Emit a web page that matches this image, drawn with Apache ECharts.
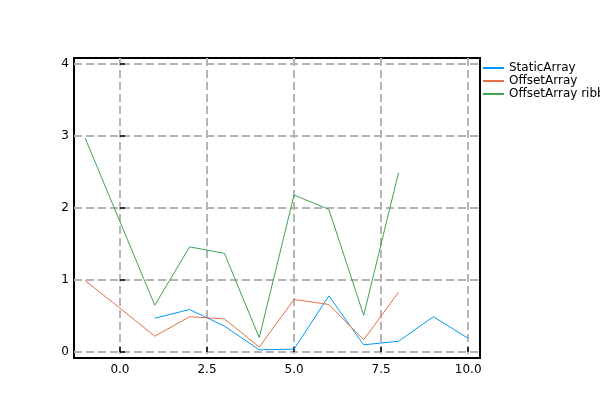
<!DOCTYPE html>
<html>
<head>
<meta charset="utf-8">
<script src="https://cdn.jsdelivr.net/npm/echarts@6/dist/echarts.min.js"></script>
<style>html,body{margin:0;padding:0;background:#fff}#c{width:600px;height:400px}</style>
</head>
<body>
<div id="c"></div>
<script>
var seriesNames = ['StaticArray', 'OffsetArray', 'OffsetArray ribbon'];
var staticX = [1, 2, 3, 4, 5, 6, 7, 8, 9, 10];
var staticY = [0.47, 0.59, 0.36, 0.03, 0.04, 0.78, 0.10, 0.15, 0.49, 0.19];
var offsetX = [-1, 0, 1, 2, 3, 4, 5, 6, 7, 8];
var offsetY = [0.99, 0.61, 0.22, 0.49, 0.46, 0.07, 0.73, 0.66, 0.17, 0.83];
var ribbonX = [-1, 0, 1, 2, 3, 4, 5, 6, 7, 8];
var ribbonY = [2.97, 1.81, 0.65, 1.46, 1.37, 0.20, 2.18, 1.98, 0.51, 2.49];
var xTicks = [0, 2.5, 5, 7.5, 10];
var yTicks = [0, 1, 2, 3, 4];
var colors = ['#009AFA', '#E36F47', '#3EA44E'];

function pairs(xs, ys) { return xs.map(function (x, i) { return [x, ys[i]]; }); }

var font = 'DejaVu Sans';
var chart = echarts.init(document.getElementById('c'), null, { renderer: 'canvas' });
var gridLine = { show: true, lineStyle: { color: '#b4b4b4', width: 2, type: [8, 4] } };
chart.setOption({
  animation: false,
  textStyle: { fontFamily: font },
  grid: { left: 74, right: 120, top: 58, bottom: 42, show: true, borderColor: '#000', borderWidth: 2, backgroundColor: 'transparent' },
  legend: {
    orient: 'vertical', left: 478, top: 57, itemWidth: 21, itemHeight: 2, itemGap: 1,
    textStyle: { fontFamily: font, fontSize: 12, color: '#000' },
    data: seriesNames.map(function (n) { return { name: n, icon: 'rect' }; })
  },
  xAxis: {
    type: 'value', min: -1.32, max: 10.34,
    axisLine: { show: false },
    axisTick: { show: true, inside: true, length: 5, customValues: xTicks, lineStyle: { color: '#000', width: 1.5 } },
    axisLabel: { customValues: xTicks, fontFamily: font, fontSize: 12, color: '#000', margin: 6, formatter: function (v) { return v.toFixed(1); } },
    splitLine: gridLine
  },
  yAxis: {
    type: 'value', min: -0.083, max: 4.083,
    axisLine: { show: false },
    axisTick: { show: true, inside: true, length: 5, customValues: yTicks, lineStyle: { color: '#000', width: 1.5 } },
    axisLabel: { customValues: yTicks, fontFamily: font, fontSize: 12, color: '#000', margin: 5, formatter: function (v) { return String(Math.round(v)); } },
    splitLine: gridLine
  },
  series: [
    { name: seriesNames[0], type: 'line', data: pairs(staticX, staticY), showSymbol: false, symbol: 'none', lineStyle: { color: colors[0], width: 1 }, itemStyle: { color: colors[0] } },
    { name: seriesNames[1], type: 'line', data: pairs(offsetX, offsetY), showSymbol: false, symbol: 'none', lineStyle: { color: colors[1], width: 1 }, itemStyle: { color: colors[1] } },
    { name: seriesNames[2], type: 'line', data: pairs(ribbonX, ribbonY), showSymbol: false, symbol: 'none', lineStyle: { color: colors[2], width: 1 }, itemStyle: { color: colors[2] } }
  ]
});
</script>
</body>
</html>
